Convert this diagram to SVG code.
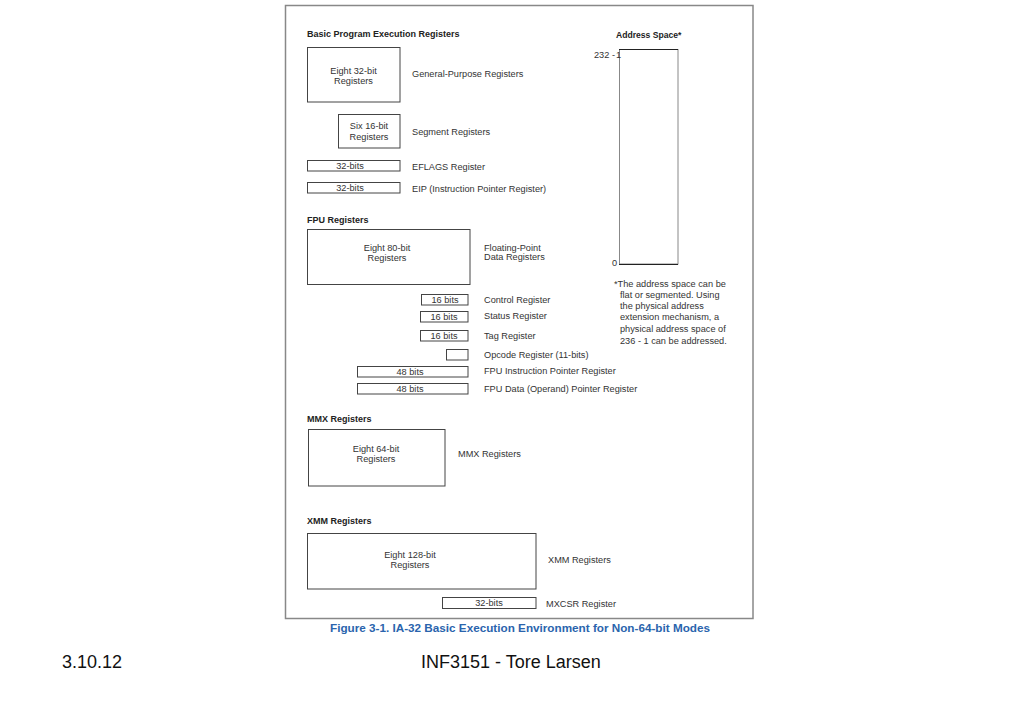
<svg xmlns="http://www.w3.org/2000/svg" width="1023" height="708" viewBox="0 0 1023 708">
<style>
.t{font-family:"Liberation Sans",Arial,sans-serif;font-size:9.2px;fill:#333}
.m{text-anchor:middle}
.h{font-family:"Liberation Sans",Arial,sans-serif;font-size:9px;font-weight:bold;fill:#222}
.b{fill:#fff;stroke:#444;stroke-width:1}
.f{font-family:"Liberation Sans",Arial,sans-serif;font-size:18px;fill:#111}
</style>
<rect width="1023" height="708" fill="#fff"/>
<rect x="285.5" y="5.5" width="467.5" height="613" fill="#fff" stroke="#888" stroke-width="1.5"/>

<text class="h" x="307" y="37">Basic Program Execution Registers</text>
<g id="gp"><rect class="b" x="307.5" y="47.5" width="92.5" height="54.5"/>
<text class="t m" x="353.5" y="74">Eight 32-bit</text><text class="t m" x="353.5" y="84">Registers</text>
<text class="t" x="412" y="77">General-Purpose Registers</text></g>
<g id="seg"><rect class="b" x="338.5" y="114.5" width="61.5" height="33.5"/>
<text class="t m" x="369" y="129">Six 16-bit</text><text class="t m" x="369" y="140">Registers</text>
<text class="t" x="412" y="135">Segment Registers</text></g>
<g id="eflags"><rect class="b" x="307.5" y="160.5" width="92.5" height="10.5"/>
<text class="t m" x="350" y="169">32-bits</text>
<text class="t" x="412" y="170">EFLAGS Register</text></g>
<g id="eip"><rect class="b" x="307.5" y="182.5" width="92.5" height="10.5"/>
<text class="t m" x="350" y="191">32-bits</text>
<text class="t" x="412" y="192">EIP (Instruction Pointer Register)</text></g>

<text class="h" x="307" y="223">FPU Registers</text>
<g id="fpu"><rect class="b" x="307.5" y="229.5" width="162.5" height="55"/>
<text class="t m" x="387" y="251">Eight 80-bit</text><text class="t m" x="387" y="261">Registers</text>
<text class="t" x="484" y="251">Floating-Point</text><text class="t" x="484" y="260">Data Registers</text></g>
<g id="ctrl"><rect class="b" x="421.5" y="294.5" width="46.5" height="10.5"/>
<text class="t m" x="445" y="303">16 bits</text>
<text class="t" x="484" y="303">Control Register</text></g>
<g id="status"><rect class="b" x="420.5" y="311.5" width="47.5" height="10.5"/>
<text class="t m" x="444" y="320">16 bits</text>
<text class="t" x="484" y="319">Status Register</text></g>
<g id="tag"><rect class="b" x="420.5" y="330.5" width="47.5" height="10.5"/>
<text class="t m" x="444" y="339">16 bits</text>
<text class="t" x="484" y="339">Tag Register</text></g>
<g id="opcode"><rect class="b" x="446.5" y="349.5" width="21.5" height="10.5"/>
<text class="t" x="484" y="358">Opcode Register (11-bits)</text></g>
<g id="fip"><rect class="b" x="357.5" y="366.5" width="110.5" height="10.5"/>
<text class="t m" x="410" y="375">48 bits</text>
<text class="t" x="484" y="374">FPU Instruction Pointer Register</text></g>
<g id="fdp"><rect class="b" x="357.5" y="383.5" width="110.5" height="10.5"/>
<text class="t m" x="410" y="392">48 bits</text>
<text class="t" x="484" y="392">FPU Data (Operand) Pointer Register</text></g>

<text class="h" x="307" y="422">MMX Registers</text>
<g id="mmx"><rect class="b" x="308.5" y="429.5" width="136.5" height="56.5"/>
<text class="t m" x="376" y="452">Eight 64-bit</text><text class="t m" x="376" y="462">Registers</text>
<text class="t" x="458" y="457">MMX Registers</text></g>

<text class="h" x="307" y="524">XMM Registers</text>
<g id="xmm"><rect class="b" x="307.5" y="533.5" width="228.5" height="55.5"/>
<text class="t m" x="410" y="558">Eight 128-bit</text><text class="t m" x="410" y="568">Registers</text>
<text class="t" x="548" y="563">XMM Registers</text></g>
<g id="mxcsr"><rect class="b" x="442.5" y="597.5" width="93.5" height="11"/>
<text class="t m" x="489" y="606">32-bits</text>
<text class="t" x="546" y="607">MXCSR Register</text></g>

<g id="addr">
<text class="h" x="616" y="38" style="font-size:8.6px">Address Space*</text>
<rect x="619.5" y="49.5" width="58.5" height="214.5" fill="#fff" stroke="#888" stroke-width="1"/>
<line x1="619" y1="49.5" x2="678" y2="49.5" stroke="#222"/>
<line x1="619" y1="264.5" x2="678" y2="264.5" stroke="#222"/>
<text class="t" x="594" y="58">232 -</text><text class="t" x="616" y="58">1</text>
<text class="t" x="612" y="266">0</text>
<text class="t" x="614" y="287">*The address space can be</text>
<text class="t" x="620" y="298">flat or segmented. Using</text>
<text class="t" x="620" y="309">the physical address</text>
<text class="t" x="620" y="320">extension mechanism, a</text>
<text class="t" x="620" y="332">physical address space of</text>
<text class="t" x="620" y="344">236 - 1 can be addressed.</text>
</g>

<text x="330" y="632" font-family="Liberation Sans,Arial,sans-serif" font-size="10.5" font-weight="bold" fill="#2a64ad" textLength="380" lengthAdjust="spacingAndGlyphs">Figure 3-1.  IA-32 Basic Execution Environment for Non-64-bit Modes</text>
<text class="f" x="62" y="668">3.10.12</text>
<text class="f" x="421" y="668">INF3151 - Tore Larsen</text>
</svg>
